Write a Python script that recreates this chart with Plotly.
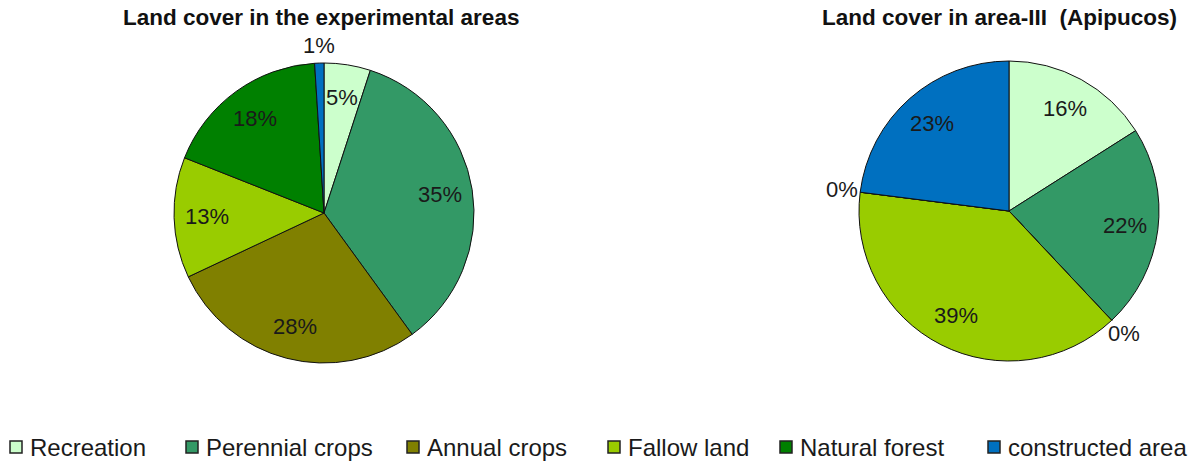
import math
import plotly.graph_objects as go

# Land-cover categories and their shares (%)
categories = ["Recreation", "Perennial crops", "Annual crops",
              "Fallow land", "Natural forest", "constructed area"]
all_areas = [5, 35, 28, 13, 18, 1]
area_iii = [16, 22, 0, 39, 0, 23]
colors = ["#CCFFCC", "#339966", "#808000", "#99CC00", "#008000", "#0070C0"]

titles = ["Land cover in the experimental areas", "Land cover in area-III  (Apipucos)"]

W, H = 1192, 461
FONT = "Arial, Liberation Sans, sans-serif"
R = 150
centers = [(324, 213), (1009, 211)]
title_x = [321, 999]
# left edge of each legend swatch, and the legend row's vertical centre (px)
legend_x = [10, 186, 407, 608, 780, 988]
legend_y = 447
SWATCH = 12


def px(x, y):
    return x / W, (H - y) / H


def domain(cx, cy):
    return dict(x=[(cx - R) / W, (cx + R) / W],
                y=[(H - cy - R) / H, (H - cy + R) / H])


fig = go.Figure()
for i, vals in enumerate([all_areas, area_iii]):
    cx, cy = centers[i]
    fig.add_trace(go.Pie(
        labels=categories, values=vals, sort=False, direction="clockwise",
        rotation=0, textinfo="none",
        marker=dict(colors=colors, line=dict(color="#111111", width=1)),
        domain=domain(cx, cy), showlegend=False,
        hoverinfo="label+percent",
    ))

    # percentage labels placed along each slice's bisector
    total = sum(vals)
    cum = 0
    for v in vals:
        mid = (cum + v / 2) / total * 2 * math.pi
        cum += v
        frac = 1.12 if v <= 2 else 0.78
        x, y = px(cx + frac * R * math.sin(mid), cy - frac * R * math.cos(mid))
        fig.add_annotation(text="%d%%" % v, x=x, y=y,
                           xref="paper", yref="paper", showarrow=False,
                           xanchor="center", yanchor="middle",
                           font=dict(family=FONT, size=22, color="#1a1a1a"))

for tx, t in zip(title_x, titles):
    x, y = px(tx, 18)
    fig.add_annotation(text="<b>%s</b>" % t, x=x, y=y,
                       xref="paper", yref="paper", showarrow=False,
                       xanchor="center", yanchor="middle",
                       font=dict(family=FONT, size=22.5, color="#111111"))

# shared legend row beneath both pies
for lx, name, col in zip(legend_x, categories, colors):
    x0, y0 = px(lx, legend_y + SWATCH / 2)
    x1, y1 = px(lx + SWATCH, legend_y - SWATCH / 2)
    fig.add_shape(type="rect", xref="paper", yref="paper",
                  x0=x0, y0=y0, x1=x1, y1=y1, fillcolor=col,
                  line=dict(color="#222222", width=1.5))
    tx, ty = px(lx + SWATCH + 6, legend_y)
    fig.add_annotation(text=name, x=tx, y=ty, xref="paper", yref="paper",
                       showarrow=False, xanchor="left", yanchor="middle",
                       font=dict(family=FONT, size=24, color="#1a1a1a"))

fig.update_layout(
    width=W, height=H, margin=dict(l=0, r=0, t=0, b=0),
    paper_bgcolor="white", plot_bgcolor="white", showlegend=False,
)

fig.write_html("out.html")
